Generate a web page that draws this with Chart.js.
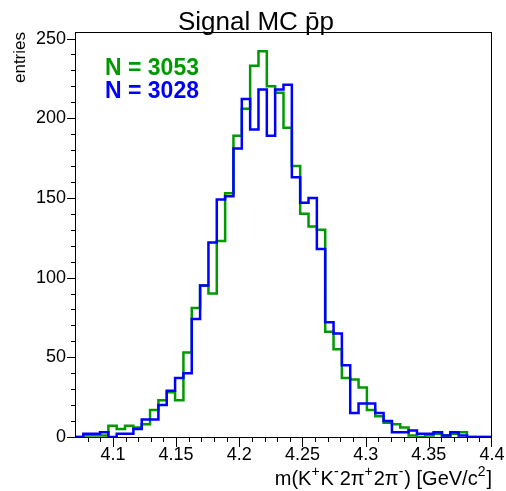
<!DOCTYPE html>
<html>
<head>
<meta charset="utf-8">
<title>Signal MC</title>
<script src="https://cdn.jsdelivr.net/npm/chart.js@4.4.0/dist/chart.umd.min.js"></script>
<style>
  body { margin: 0; background: #fff; }
</style>
</head>
<body>
<canvas id="c" width="506" height="491"></canvas>
<script>
// 50 bins from 4.07 to 4.40 GeV/c2
var binLow = 4.07;
var binWidth = 0.0066;

// bin contents
var greenCounts = [0, 1, 1, 1, 7, 5, 7, 6, 8, 17,
                   23, 28, 23, 53, 81, 95, 90, 123, 153, 189,
                   206, 233, 242, 220, 216, 194, 170, 140, 132, 130,
                   66, 55, 37, 36, 31, 17, 13, 9, 8, 6,
                   1, 0, 1, 2, 1, 2, 3, 0, 0, 0];
var blueCounts = [0, 2, 2, 3, 0, 2, 2, 5, 11, 11,
                  20, 29, 37, 40, 74, 95, 122, 149, 151, 181,
                  212, 193, 218, 189, 218, 221, 163, 147, 150, 118,
                  72, 65, 45, 15, 21, 21, 15, 10, 3, 3,
                  4, 2, 2, 3, 1, 3, 1, 0, 0, 0];

var xTicks = [4.1, 4.15, 4.2, 4.25, 4.3, 4.35, 4.4];
var yTicks = [0, 50, 100, 150, 200, 250];

// x title pieces: [text, superscript?]
var xTitle = [['m(K', 0], ['+', 1], ['K', 0], ['-', 1], ['2\u03C0', 0], ['+', 1],
              ['2\u03C0', 0], ['-', 1], [') [GeV/c', 0], ['2', 1], [']', 0]];

var greenCol = '#009a00';
var blueCol = '#0000ff';
var fontFam = '"Liberation Sans", Arial, Helvetica, sans-serif';

function toSteps(counts) {
    var pts = [];
    for (var i = 0; i < counts.length; i++) {
        pts.push({ x: binLow + i * binWidth, y: counts[i] });
    }
    pts.push({ x: binLow + counts.length * binWidth, y: counts[counts.length - 1] });
    return pts;
}

// frame, tick marks and the text labels, drawn ROOT style
var rootStyle = {
    id: 'rootStyle',
    afterDraw: function(chart) {
        var ctx = chart.ctx, a = chart.chartArea;
        var xs = chart.scales.x, ys = chart.scales.y;
        ctx.save();
        ctx.strokeStyle = '#000';
        ctx.lineWidth = 1;
        ctx.strokeRect(a.left + 0.5, a.top + 0.5, a.right - a.left - 1, a.bottom - a.top);
        ctx.beginPath();
        for (var m = 408; m <= 440; m++) {
            var px = Math.round(xs.getPixelForValue(m / 100)) + 0.5;
            if (m === 440) px -= 1;
            var len = (m % 5 === 0) ? 10 : 5;
            ctx.moveTo(px, a.bottom);
            ctx.lineTo(px, a.bottom + len);
        }
        for (var n = 0; n <= 250; n += 10) {
            var py = Math.round(ys.getPixelForValue(n)) + 0.5;
            var l2 = (n % 50 === 0) ? 8 : 4;
            ctx.moveTo(a.left, py);
            ctx.lineTo(a.left - l2, py);
        }
        ctx.stroke();

        ctx.fillStyle = '#000';
        ctx.font = '26px ' + fontFam;
        ctx.textAlign = 'center';
        ctx.textBaseline = 'alphabetic';
        ctx.fillText('Signal MC p\u0304p', 256, 30);

        // x axis title with raised superscripts, right aligned on the frame
        var big = '20px ' + fontFam, small = '14px ' + fontFam;
        var w = 0, k;
        for (k = 0; k < xTitle.length; k++) {
            ctx.font = xTitle[k][1] ? small : big;
            w += ctx.measureText(xTitle[k][0]).width + (xTitle[k][1] ? 1 : 0);
        }
        var tx = a.right - w;
        ctx.textAlign = 'left';
        for (k = 0; k < xTitle.length; k++) {
            ctx.font = xTitle[k][1] ? small : big;
            ctx.fillText(xTitle[k][0], tx, xTitle[k][1] ? 476 : 485);
            tx += ctx.measureText(xTitle[k][0]).width + (xTitle[k][1] ? 1 : 0);
        }

        ctx.font = 'bold 23px ' + fontFam;
        ctx.fillStyle = greenCol;
        ctx.fillText('N = 3053', 105, 75);
        ctx.fillStyle = blueCol;
        ctx.fillText('N = 3028', 105, 98);
        ctx.restore();
    }
};

Chart.defaults.font.family = fontFam;
Chart.defaults.color = '#000';

new Chart(document.getElementById('c'), {
    type: 'line',
    data: {
        datasets: [{
            label: 'N = 3028',
            data: toSteps(blueCounts),
            borderColor: blueCol,
            borderWidth: 2.5,
            stepped: true,
            pointRadius: 0,
            fill: false
        }, {
            label: 'N = 3053',
            data: toSteps(greenCounts),
            borderColor: greenCol,
            borderWidth: 2.5,
            stepped: true,
            pointRadius: 0,
            fill: false
        }]
    },
    options: {
        responsive: false,
        animation: false,
        devicePixelRatio: 1,
        layout: { padding: { top: 32, right: 14, left: 0, bottom: 0 } },
        plugins: {
            legend: { display: false },
            tooltip: { enabled: false }
        },
        scales: {
            x: {
                type: 'linear',
                min: 4.07,
                max: 4.4,
                grid: { display: false, drawTicks: false },
                border: { display: false },
                afterBuildTicks: function(s) { s.ticks = xTicks.map(function(v) { return { value: v }; }); },
                afterFit: function(s) {
                    s.height = 54;
                    s.paddingLeft = 0;
                    s.paddingRight = 0;
                },
                ticks: {
                    padding: 7,
                    maxRotation: 0,
                    autoSkip: false,
                    font: { size: 18 },
                    callback: function(v) { return String(+v.toFixed(2)); }
                }
            },
            y: {
                min: 0,
                max: 254.1,
                grid: { display: false, drawTicks: false },
                border: { display: false },
                afterBuildTicks: function(s) { s.ticks = yTicks.map(function(v) { return { value: v }; }); },
                afterFit: function(s) {
                    s.width = 75;
                    s.paddingTop = 0;
                    s.paddingBottom = 0;
                },
                ticks: {
                    padding: 9,
                    font: { size: 18 }
                },
                title: {
                    display: true,
                    text: 'entries',
                    align: 'end',
                    font: { size: 17 },
                    padding: { top: 10, bottom: 0 }
                }
            }
        }
    },
    plugins: [rootStyle]
});
</script>
</body>
</html>
